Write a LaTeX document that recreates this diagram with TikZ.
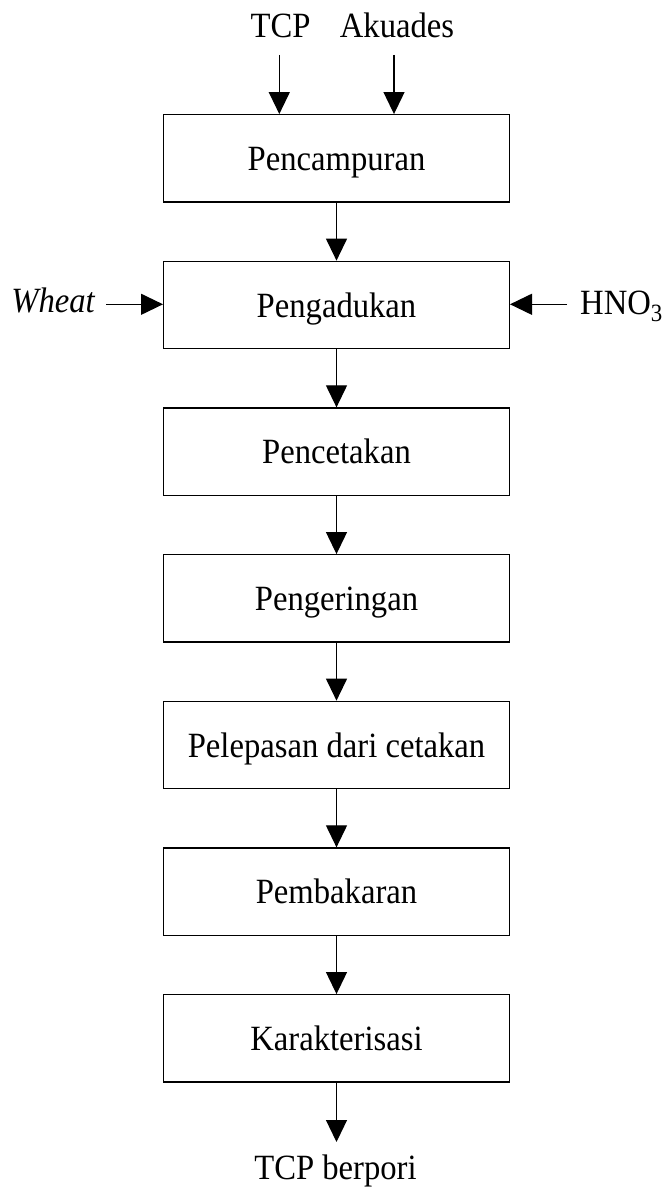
\documentclass[tikz,border=0pt]{standalone}
\usepackage{fontspec}
\setmainfont[FakeStretch=0.92]{Liberation Serif}
\usetikzlibrary{arrows.meta}
\begin{document}
\begin{tikzpicture}[x=1pt,y=-1pt,
  font=\fontsize{35.5}{42}\selectfont,
  stepbox/.style={draw,line width=1.4pt,minimum width=345.6pt,minimum height=87.3pt,
    inner sep=0pt,text height=24.5pt,text depth=0pt,anchor=center},
  lbl/.style={inner sep=0pt,anchor=base},
  flow/.style={line width=1.2pt,-{Triangle[width=21pt,length=22pt]}}]
\useasboundingbox (0,0) rectangle (665,1188);
\node[stepbox] (b1) at (336.5,158.4) {Pencampuran};
\node[stepbox] (b2) at (336.5,305.0) {Pengadukan};
\node[stepbox] (b3) at (336.5,451.7) {Pencetakan};
\node[stepbox] (b4) at (336.5,598.4) {Pengeringan};
\node[stepbox] (b5) at (336.5,745.0) {Pelepasan dari cetakan};
\node[stepbox] (b6) at (336.5,891.7) {Pembakaran};
\node[stepbox] (b7) at (336.5,1038.4) {Karakterisasi};
\node[lbl] (tcp) at (280.5,37.3) {TCP};
\node[lbl] (aku) at (397,37.3) {Akuades};
\node[lbl,anchor=base east] (wh) at (95,312.7) {\itshape Wheat};
\node[lbl,anchor=base west] (hno) at (580,314) {HNO\textsubscript{3}};
\node[lbl] (out) at (335.5,1179.5) {TCP berpori};
\coordinate (tcpA) at (279.3,55);
\coordinate (akuA) at (394,55);
\coordinate (whA) at (106,304.3);
\coordinate (hnoA) at (567,304.3);
\coordinate (outA) at (336.5,1142);
\draw[flow] (tcpA) -- (tcpA |- b1.north);
\draw[flow] (akuA) -- (akuA |- b1.north);
\draw[flow] (whA) -- (whA -| b2.west);
\draw[flow] (hnoA) -- (hnoA -| b2.east);
\draw[flow] (b1) -- (b2);
\draw[flow] (b2) -- (b3);
\draw[flow] (b3) -- (b4);
\draw[flow] (b4) -- (b5);
\draw[flow] (b5) -- (b6);
\draw[flow] (b6) -- (b7);
\draw[flow] (b7) -- (outA);
\end{tikzpicture}
\end{document}
